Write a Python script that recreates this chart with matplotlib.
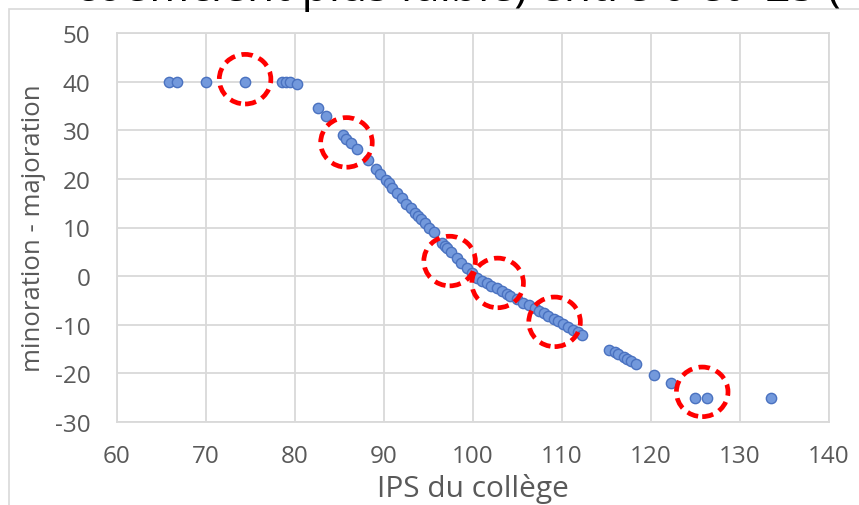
import matplotlib
matplotlib.use("Agg")
import matplotlib.pyplot as plt
from matplotlib.patches import Ellipse, Rectangle

plt.rcParams['font.family'] = ['Open Sans', 'DejaVu Sans']
plt.rcParams['axes.unicode_minus'] = False

# ---- data ----
ips = [65.9, 66.7, 70.0, 74.4, 78.6, 79.0, 79.5, 80.2, 82.6, 83.5,
       85.4, 85.8, 86.3, 87.0, 88.2, 89.1, 89.6, 90.2, 90.6, 90.9,
       91.5, 92.0, 92.5, 93.1, 93.5, 93.8, 94.2, 94.6, 95.1, 95.6,
       96.5, 96.9, 97.1, 97.6, 98.2, 98.7, 99.3, 99.9, 100.5, 101.0,
       101.6, 102.1, 102.7, 103.3, 103.8, 104.2, 105.0, 105.7, 106.3, 107.0,
       107.5, 108.0, 108.5, 109.1, 109.6, 110.1, 110.7, 111.3, 111.8, 112.3,
       115.3, 116.0, 116.3, 117.0, 117.3, 117.8, 118.3, 120.4, 122.3, 125.0,
       126.3, 133.5]
modulation = [40, 40, 40, 40, 40, 40, 40, 39.5, 34.5, 33.0,
              29.1, 28.3, 27.3, 26.1, 23.9, 22.0, 20.9, 19.8, 19.1, 18.2,
              17.0, 16.0, 14.9, 14.0, 13.0, 12.3, 11.7, 10.9, 9.8, 9.0,
              6.9, 6.2, 5.7, 4.9, 3.8, 2.8, 1.6, 0.6, -0.3, -0.9,
              -1.4, -2.0, -2.5, -3.0, -3.6, -4.1, -4.7, -5.5, -6.0, -6.6,
              -7.1, -7.6, -8.2, -8.8, -9.3, -9.9, -10.5, -11.0, -11.5, -12.1,
              -15.1, -15.7, -16.0, -16.7, -17.0, -17.5, -18.1, -20.3, -22.0, -25,
              -25, -25]
highlight_x = [74.4, 85.8, 97.4, 102.8, 109.2, 125.8]
highlight_y = [40.5, 27.5, 3.1, -1.4, -9.4, -23.8]
x_ticks = [60, 70, 80, 90, 100, 110, 120, 130, 140]
y_ticks = [-30, -20, -10, 0, 10, 20, 30, 40, 50]
x_label = "IPS du collège"
y_label = "minoration - majoration"
title_text = "coefficient plus faible) entre 0 et -25 ("

W, H = 859, 506
fig = plt.figure(figsize=(W / 100, H / 100), dpi=100)
fig.patch.set_facecolor('white')

# outer chart border (light gray, extends past the image)
fig.patches.append(Rectangle((9 / W, -0.1), 1.2, 1 - 10 / H + 0.1,
                             transform=fig.transFigure, fill=False,
                             edgecolor='#D9D9D9', linewidth=1.2, zorder=0))

# partially visible title at top (cut off by the image edge, as in the source)
fig.text(75 / W, 1 - 1.0 / H, title_text, fontsize=32, color='black',
         ha='left', va='baseline')

ax = fig.add_axes([117 / W, 1 - 423 / H, (828.5 - 117) / W, (423 - 34) / H])
ax.set_xlim(60, 140)
ax.set_ylim(-30, 50)
ax.set_xticks(x_ticks)
ax.set_yticks(y_ticks)
ax.grid(True, color='#D9D9D9', linewidth=1.3)
ax.set_axisbelow(True)
for s in ax.spines.values():
    s.set_color('#D9D9D9')
    s.set_linewidth(1.3)
ax.tick_params(length=0, labelsize=17.5, labelcolor='#595959')
ax.tick_params(axis='y', pad=19)
ax.tick_params(axis='x', pad=16)

ax.scatter(ips, modulation, s=55, facecolor='#7399DC', edgecolor='#4A72C0',
           linewidth=1.0, zorder=3)

for cx, cy in zip(highlight_x, highlight_y):
    ax.add_patch(Ellipse((cx, cy), 5.8, 10.2, fill=False, edgecolor='#FF0000',
                         linewidth=3.4, linestyle=(0, (2.4, 1.4)), zorder=4))

ax.set_xlabel(x_label, fontsize=21.5, color='#595959')
ax.set_ylabel(y_label, fontsize=18.5, color='#595959')
ax.xaxis.set_label_coords(0.5, -0.13)
ax.yaxis.set_label_coords(-0.1, 0.5)

fig.savefig('out.png', dpi=100)
